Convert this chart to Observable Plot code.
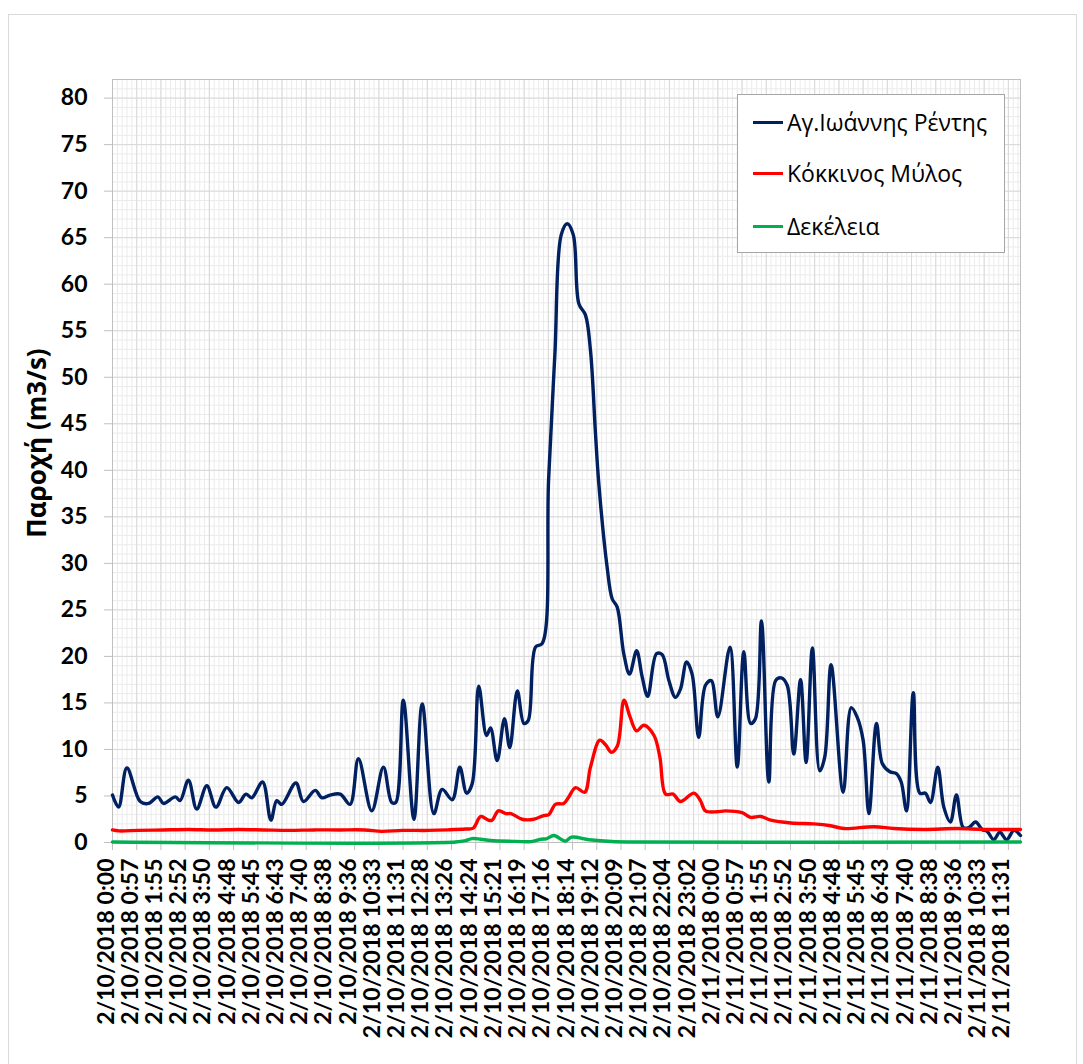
<!DOCTYPE html>
<html><head><meta charset="utf-8">
<script src="https://cdn.jsdelivr.net/npm/d3@7"></script>
<script src="https://cdn.jsdelivr.net/npm/@observablehq/plot@0.6"></script>
<style>
body{margin:0;background:#fff;}
#wrap{position:relative;width:1083px;height:1064px;overflow:hidden;background:#fff;}
#border{position:absolute;left:8px;top:14px;width:1067px;height:1080px;border:1px solid #d9d9d9;}
#chart{position:absolute;left:0;top:0;}
#ytitle{position:absolute;left:36px;top:443px;transform:translate(-50%,-50%) rotate(-90deg);white-space:nowrap;font-family:"Open Sans",sans-serif;font-weight:bold;font-size:26px;color:#000;}
#legend{position:absolute;left:737px;top:94px;width:266px;height:157px;border:1px solid #a6a6a6;background:#fff;font-family:"Open Sans",sans-serif;font-size:23px;color:#000;}
.item{position:absolute;left:15px;height:30px;display:flex;align-items:center;}
.sw{display:inline-block;width:30px;height:3px;margin-right:4px;}
g[aria-label="xlabels"] text{letter-spacing:1.5px;}
</style></head>
<body>
<div id="wrap">
  <div id="border"></div>
  <div id="chart"></div>
  <div id="ytitle">Παροχή (m3/s)</div>
  <div id="legend"></div>
</div>
<script>
// Series names and colours
const seriesNames = ["Αγ.Ιωάννης Ρέντης", "Κόκκινος Μύλος", "Δεκέλεια"];
const seriesColors = ["#002060", "#ff0000", "#00b050"];

// Hours after 2/10/2018 0:00 and discharge (m3/s)
const renti_h = [0,0.24,0.57,1.10,1.43,1.80,2.02,2.49,2.68,3.01,3.34,3.74,4.10,4.53,5.00,5.29,5.52,5.95,6.28,6.51,6.71,7.27,7.57,8.04,8.30,8.63,9.03,9.42,9.75,10.28,10.74,11.07,11.23,11.53,11.95,12.28,12.74,13.07,13.47,13.77,14.04,14.26,14.52,14.83,14.99,15.25,15.54,15.75,16.05,16.31,16.48,16.77,17.04,17.29,17.54,17.79,18.03,18.27,18.49,18.75,18.95,19.15,19.28,19.61,19.81,20.01,20.27,20.50,20.78,21.00,21.22,21.57,21.79,22.06,22.32,22.52,22.76,22.98,23.24,23.51,23.74,24.00,24.48,24.77,25.03,25.30,25.49,25.73,26.02,26.29,26.51,26.75,27.01,27.28,27.50,27.75,28.04,28.24,28.49,28.97,29.29,29.52,29.76,29.99,30.29,30.52,30.82,31.08,31.27,31.48,31.75,32.01,32.23,32.43,32.72,32.96,33.22,33.46,33.73,33.95,34.22,34.48,34.68,34.94,35.18,35.45,35.74,36.0];
const renti_q = [5.1,3.8,8.0,4.4,4.2,4.9,4.2,4.9,4.5,6.7,3.6,6.1,3.8,5.9,4.3,5.2,4.8,6.5,2.4,4.5,4.1,6.4,4.4,5.6,4.8,5.1,5.2,4.1,9.0,3.4,8.1,4.3,4.3,15.3,2.5,14.9,3.1,5.7,4.6,8.1,5.3,6.3,16.8,11.5,12.3,8.8,13.3,10.2,16.3,12.8,13.1,21.0,21.4,39,52.5,65.3,66.5,65.3,57.9,56.7,52.9,43.9,38.6,29.6,26.2,25.3,20.3,18.1,20.6,17.8,15.7,20.3,20.2,17.4,15.6,16.5,19.4,18.1,11.3,16.9,17.4,13.5,21.0,8.1,20.5,12.8,13.3,23.8,6.5,17.4,17.7,16.9,9.5,17.5,8.6,20.9,7.7,9.2,19.1,5.4,14.5,13.5,11.0,3.1,12.8,8.5,7.6,7.4,6.5,3.4,16.1,5.3,5.3,4.3,8.1,3.8,2.2,5.1,1.6,1.6,2.2,1.4,1.2,0.3,1.1,0.3,1.3,0.75];

const mylos_h = [0,0.25,1,2,3,4,5,6,7,8,9,10,10.67,11.5,12.5,13.3,14.0,14.3,14.6,14.9,15.05,15.3,15.6,15.8,16.24,16.7,17.1,17.3,17.56,17.89,18.09,18.36,18.72,18.95,19.32,19.55,19.78,20.02,20.28,20.52,20.78,21.07,21.47,21.7,21.93,22.23,22.52,23.05,23.31,23.51,23.97,24.3,24.96,25.3,25.7,26.1,26.9,27.8,28.47,29.0,30.19,30.98,32.17,33.49,34.55,36];
const mylos_q = [1.35,1.25,1.3,1.35,1.4,1.35,1.4,1.35,1.3,1.35,1.35,1.35,1.2,1.3,1.3,1.36,1.45,1.54,2.8,2.4,2.4,3.4,3.1,3.1,2.5,2.5,2.9,3.0,4.1,4.2,4.9,5.9,5.4,8.1,11.0,10.5,9.7,10.4,15.3,13.5,12.0,12.6,11.5,9.2,5.2,5.2,4.4,5.3,4.5,3.4,3.3,3.4,3.2,2.7,2.8,2.4,2.1,2.0,1.8,1.5,1.7,1.5,1.4,1.5,1.4,1.4];

const dekeleia_h = [0,13.6,14.0,14.25,14.6,15.0,16.0,16.6,17.0,17.2,17.5,17.95,18.2,18.9,19.8,20.5,36];
const dekeleia_q = [0.05,0.05,0.2,0.42,0.35,0.22,0.12,0.1,0.35,0.4,0.75,0.15,0.57,0.3,0.1,0.05,0.05];

const yTicks = [0,5,10,15,20,25,30,35,40,45,50,55,60,65,70,75,80];

// ---- build ----
const t0 = Date.UTC(2018, 1, 10, 0, 0);
const toDate = h => new Date(t0 + Math.round(h * 3600000));
function rows(hs, qs) {
  if (hs.length !== qs.length) throw new Error("length mismatch " + hs.length + " vs " + qs.length);
  return hs.map((h, i) => ({t: toDate(h), q: qs[i]}));
}
const dRenti = rows(renti_h, renti_q);
const dMylos = rows(mylos_h, mylos_q);
const dDek = rows(dekeleia_h, dekeleia_q);

const tickTimes = d3.range(38).map(i => new Date(t0 + i * 3456000));
const minorTimes = d3.range(0, 188).map(i => new Date(t0 + i * 691200));
const fmt = d3.utcFormat("%-m/%-d/%Y %-H:%M");

const chart = Plot.plot({
  width: 1083, height: 1064,
  marginLeft: 112, marginTop: 79, marginRight: 63, marginBottom: 222,
  x: {type: "utc", domain: [toDate(0), toDate(36)]},
  y: {domain: [0, 82]},
  style: {background: "transparent", color: "#000"},
  marks: [
    Plot.ruleY(d3.range(0, 83, 1), {stroke: "#ebebeb", strokeWidth: 1}),
    Plot.ruleX(minorTimes, {stroke: "#ebebeb", strokeWidth: 1}),
    Plot.ruleY(yTicks, {stroke: "#d9d9d9", strokeWidth: 1}),
    Plot.ruleX(tickTimes, {stroke: "#d9d9d9", strokeWidth: 1}),
    Plot.frame({stroke: "#bfbfbf"}),
    Plot.axisY({ticks: yTicks, tickSize: 8, tickPadding: 17, fontSize: 23, fontWeight: "bold", fontFamily: "Lato, sans-serif", stroke: "#bfbfbf", fill: "#000", label: null}),
    Plot.axisX({ticks: tickTimes, tickSize: 8, tickFormat: () => "", stroke: "#bfbfbf", label: null}),
    Plot.text(tickTimes, {x: d => d, frameAnchor: "bottom", text: d => fmt(d), rotate: -90, textAnchor: "end", dy: 16, dx: 1, fontSize: 23, fontWeight: "bold", fontFamily: "Lato, sans-serif", fill: "#000", ariaLabel: "xlabels"}),
    Plot.line(dRenti, {x: "t", y: "q", stroke: seriesColors[0], strokeWidth: 3.4, curve: "catmull-rom"}),
    Plot.line(dMylos, {x: "t", y: "q", stroke: seriesColors[1], strokeWidth: 3.4, curve: "catmull-rom"}),
    Plot.line(dDek, {x: "t", y: "q", stroke: seriesColors[2], strokeWidth: 3.4, curve: "catmull-rom"})
  ]
});
document.getElementById("chart").appendChild(chart);

// legend
const lg = document.getElementById("legend");
const tops = [12, 63, 116];
seriesNames.forEach((n, i) => {
  const it = document.createElement("div");
  it.className = "item";
  it.style.top = tops[i] + "px";
  const sw = document.createElement("span");
  sw.className = "sw"; sw.style.background = seriesColors[i];
  const tx = document.createElement("span");
  tx.textContent = n;
  it.appendChild(sw); it.appendChild(tx);
  lg.appendChild(it);
});
</script>
</body></html>
